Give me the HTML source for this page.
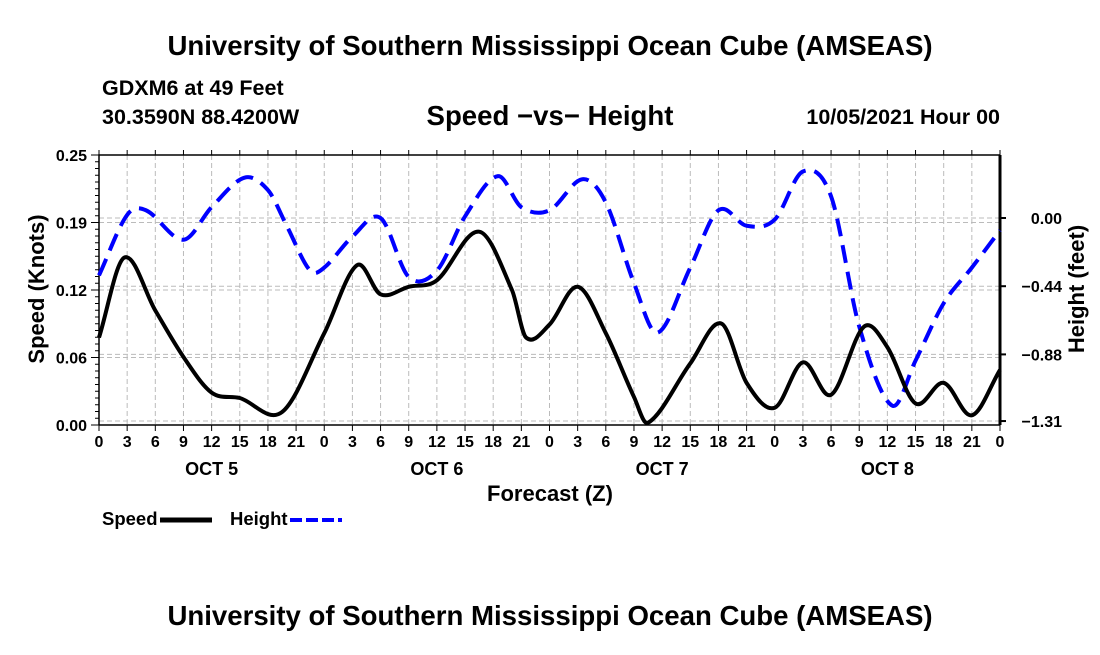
<!DOCTYPE html>
<html><head><meta charset="utf-8"><style>
body{margin:0;background:#fff;width:1100px;height:650px;overflow:hidden}
svg{font-family:"Liberation Sans",Arial,sans-serif;font-weight:bold}
</style></head><body>
<svg id="c" width="1100" height="650">
<text x="550" y="55" font-size="27.6" text-anchor="middle">University of Southern Mississippi Ocean Cube (AMSEAS)</text>
<text x="102" y="95" font-size="21.5">GDXM6 at 49 Feet</text>
<text x="102" y="124" font-size="21.5">30.3590N  88.4200W</text>
<text x="550" y="125" font-size="27.6" text-anchor="middle">Speed −vs− Height</text>
<text x="1000" y="124" font-size="21.5" text-anchor="end">10/05/2021 Hour 00</text>
<text transform="translate(44,289) rotate(-90)" font-size="22" text-anchor="middle">Speed (Knots)</text>
<text transform="translate(1084,289) rotate(-90)" font-size="22" text-anchor="middle">Height (feet)</text>
<text x="550" y="501" font-size="22" text-anchor="middle">Forecast (Z)</text>
<g id="grid"></g><g id="axes"></g><g id="series"></g>
<text x="102" y="525" font-size="18.5">Speed</text>
<line x1="160" y1="520" x2="212" y2="520" stroke="#000" stroke-width="5"/>
<text x="230" y="525" font-size="18.5">Height</text>
<line x1="290" y1="520" x2="342" y2="520" stroke="#00f" stroke-width="4" stroke-dasharray="12,4"/>
<text x="550" y="625" font-size="27.6" text-anchor="middle">University of Southern Mississippi Ocean Cube (AMSEAS)</text>
</svg>
<script>
const speedHours=[0,2.7,6,9,12,15,19.5,24,27.5,30,33,36,40.5,44,45.5,48,51,54,57,58.5,63,66.3,69,72,75,78,81.5,84,87,90,93,96];
const speedVals=[0.081,0.155,0.106,0.063,0.030,0.025,0.012,0.085,0.148,0.121,0.128,0.134,0.179,0.125,0.081,0.093,0.128,0.085,0.026,0.002,0.057,0.094,0.039,0.016,0.058,0.028,0.091,0.072,0.020,0.039,0.009,0.051];
const heightHours=[0,3,5,9,12,15.5,18,20,22.5,24,27,30,33,36,39,42.5,45,48,51.5,54,57,59.5,63,66,69,72,75,78,81,84.5,87,90,93,96];
const heightVals=[-0.37,0.02,0.05,-0.14,0.07,0.26,0.18,-0.05,-0.34,-0.32,-0.12,0.00,-0.38,-0.34,0.01,0.27,0.07,0.05,0.25,0.10,-0.42,-0.74,-0.32,0.05,-0.05,-0.01,0.30,0.14,-0.70,-1.21,-0.92,-0.55,-0.32,-0.08];
const leftTicks=[0,0.0625,0.125,0.1875,0.25];
const leftTickLabels=["0.00","0.06","0.12","0.19","0.25"];
const rightTicks=[0,-0.44,-0.88,-1.31];
const rightTickLabels=["0.00","−0.44","−0.88","−1.31"];
const dayLabels=["OCT 5","OCT 6","OCT 7","OCT 8"];
const NS="http://www.w3.org/2000/svg";
const X0=99,X1=1000,YT=155,YB=425;
const xs=h=>X0+(X1-X0)*h/96;
const ys=v=>YB-(YB-YT)*v/0.25;
const yh=v=>218-v*155;
function mk(t,a,p){const e=document.createElementNS(NS,t);for(const k in a)e.setAttribute(k,a[k]);(p||document.getElementById('c')).appendChild(e);return e;}
const G=document.getElementById('grid'),A=document.getElementById('axes'),S=document.getElementById('series');
for(let h=3;h<96;h+=3){const l=mk('line',{x1:xs(h),x2:xs(h),y1:YT,y2:YB,stroke:'#bbb','stroke-dasharray':'5,3'},G);

}
leftTicks.forEach((v,i)=>{if(i>0&&i<4){const l=mk('line',{x1:X0,x2:X1,y1:ys(v),y2:ys(v),stroke:'#bbb','stroke-dasharray':'5,3'},G);

}
const t=mk('text',{x:X0-12,y:ys(v)+6,'font-size':16,'text-anchor':'end'},A);t.textContent=leftTickLabels[i];

});
for(let v=0;v<=0.25001;v+=0.25/40){const l=mk('line',{x1:X0-(Math.round(v*160)%10==0?8:4),x2:X0,y1:ys(v),y2:ys(v),stroke:'#000'},A);

}
rightTicks.forEach((v,i)=>{const l=mk('line',{x1:X0,x2:X1,y1:yh(v),y2:yh(v),stroke:'#bbb','stroke-dasharray':'5,3'},G);


const k=mk('line',{x1:X1,x2:X1+6,y1:yh(v),y2:yh(v),stroke:'#000','stroke-width':2},A);


const t=mk('text',{x:1062,y:yh(v)+6,'font-size':16,'text-anchor':'end'},A);t.textContent=rightTickLabels[i];

});
for(let h=0;h<=96;h+=3){const k=mk('line',{x1:xs(h),x2:xs(h),y1:YB,y2:YB+6,stroke:'#000'},A);


const k2=mk('line',{x1:xs(h),x2:xs(h),y1:YT,y2:YT-5,stroke:'#000'},A);


const t=mk('text',{x:xs(h),y:YB+22,'font-size':16,'text-anchor':'middle'},A);t.textContent=String(h%24);

}
dayLabels.forEach((d,i)=>{const t=mk('text',{x:xs(12+24*i),y:475,'font-size':18,'text-anchor':'middle'},A);t.textContent=d;

});
const fr=mk('path',{d:`M${X0},${YB}V${YT}H${X1}M${X0},${YB}H${X1}`,fill:'none',stroke:'#000','stroke-width':1.5},A);


const ra=mk('line',{x1:X1,x2:X1,y1:YT,y2:YB,stroke:'#000','stroke-width':3},A);


function smooth(px,py){const n=px.length,m=[];
for(let i=0;i<n;i++){const a=Math.max(0,i-1),b=Math.min(n-1,i+1);m.push((py[b]-py[a])/(px[b]-px[a]));}
let d=`M${px[0]},${py[0]}`;for(let i=0;i<n-1;i++){const dx=(px[i+1]-px[i])/3;
d+=`C${px[i]+dx},${py[i]+m[i]*dx} ${px[i+1]-dx},${py[i+1]-m[i+1]*dx} ${px[i+1]},${py[i+1]}`;}return d;}
const hp=mk('path',{d:smooth(heightHours.map(xs),heightVals.map(yh)),fill:'none',stroke:'#00f','stroke-width':4,'stroke-dasharray':'18,9'},S);


const sp=mk('path',{d:smooth(speedHours.map(xs),speedVals.map(ys)),fill:'none',stroke:'#000','stroke-width':4},S);


</script>
</body></html>
